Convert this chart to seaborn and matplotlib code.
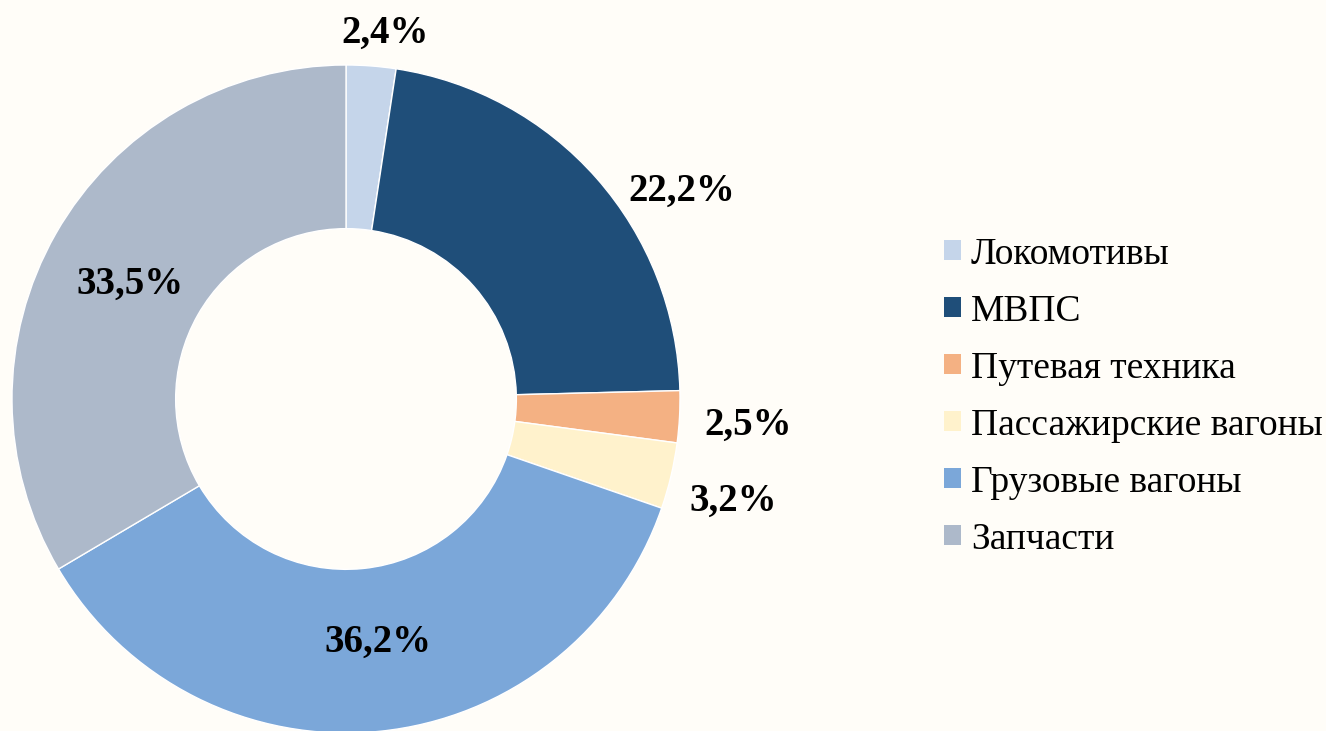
import matplotlib
matplotlib.use("Agg")
import matplotlib.pyplot as plt
import matplotlib.patches as mpatches
import numpy as np
import seaborn as sns

# данные
categories = ['Локомотивы', 'МВПС', 'Путевая техника', 'Пассажирские вагоны', 'Грузовые вагоны', 'Запчасти']
shares = [2.4, 22.2, 2.5, 3.2, 36.2, 33.5]
colors = ['#C5D5EA', '#1F4E79', '#F4B183', '#FFF2CC', '#7BA7D9', '#ADB9CA']

# расположение подписей: радиус и сдвиг угла (град.) относительно середины сектора
label_r = [1.115, 1.19, 1.205, 1.195, 0.722, 0.738]
label_shift = [-1.7, -9.1, 0.0, -0.9, 1.8, 0.8]

bg = '#FFFDF8'
sns.set_theme(style="white", rc={'figure.facecolor': bg, 'axes.facecolor': bg, 'savefig.facecolor': bg})
plt.rcParams['font.family'] = ['Liberation Serif', 'DejaVu Serif']

fig = plt.figure(figsize=(13.26, 7.31), dpi=100)
W, H = 1326, 731
cx, cy, R = 346, 399, 334
ax = fig.add_axes([(cx - R) / W, (H - cy - R) / H, 2 * R / W, 2 * R / H])
ax.set_facecolor('none')

wedges, _ = ax.pie(shares, colors=sns.color_palette(colors), startangle=90, counterclock=False,
                   radius=1, wedgeprops=dict(width=0.49, edgecolor='white', linewidth=1))
ax.set_xlim(-1, 1)
ax.set_ylim(-1, 1)
ax.set_aspect('equal')
ax.axis('off')

# подписи процентов
for w, v, r, s in zip(wedges, shares, label_r, label_shift):
    ang = np.deg2rad((w.theta1 + w.theta2) / 2 + s)
    ax.text(r * np.cos(ang), r * np.sin(ang), f'{v:.1f}'.replace('.', ',') + '%',
            ha='center', va='center_baseline', fontsize=28, fontweight='bold', color='black', clip_on=False)

handles = [mpatches.Patch(facecolor=c, edgecolor='none') for c in colors]
fig.legend(handles, categories, loc='center left', bbox_to_anchor=(944 / W, 1 - 397 / H),
           frameon=False, fontsize=27, labelcolor='black', handlelength=0.45, handleheight=0.45,
           handletextpad=0.27, labelspacing=0.6, borderaxespad=0, borderpad=0)

fig.savefig('out.png', dpi=100)
